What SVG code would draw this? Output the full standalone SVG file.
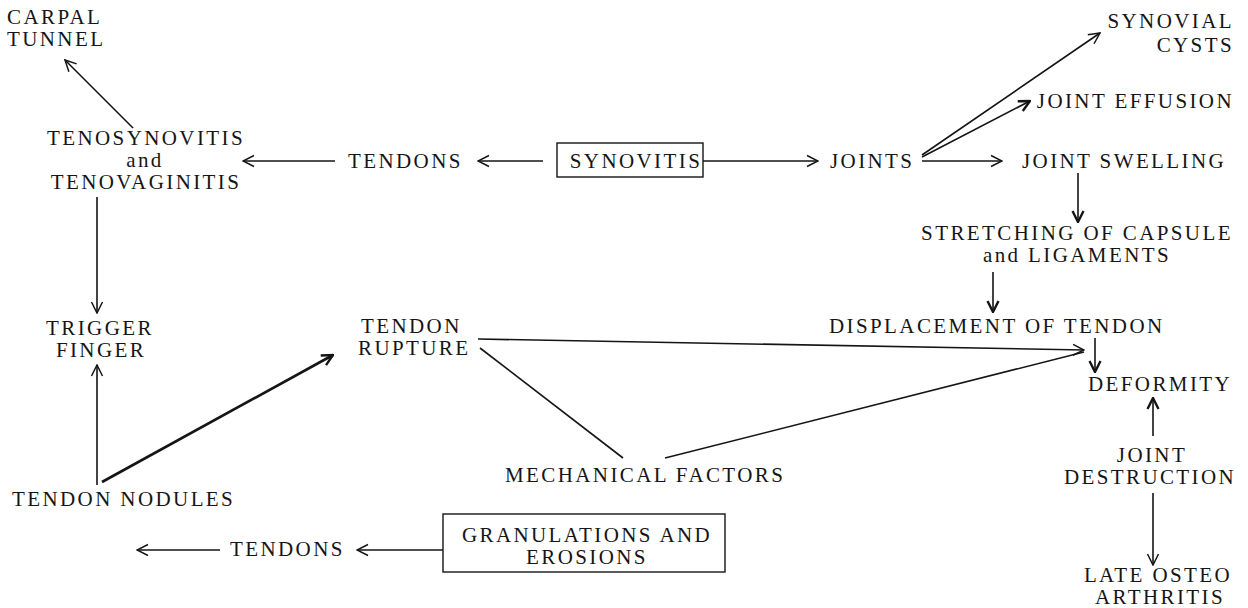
<svg xmlns="http://www.w3.org/2000/svg" width="1248" height="608" viewBox="0 0 1248 608">
<style>
text{font-family:"Liberation Serif","Times New Roman",serif;font-size:21px;fill:#151515;letter-spacing:2.4px}
.m{text-anchor:middle}
.e{text-anchor:end}
.c line{stroke:#151515;stroke-width:1.6;fill:none}
.c .b{stroke-width:2.6}
.box{fill:none;stroke:#151515;stroke-width:1.4}
</style>
<defs>
<marker id="ah" viewBox="0 0 14 14" refX="13" refY="7" markerWidth="14" markerHeight="14" markerUnits="userSpaceOnUse" orient="auto">
<path d="M2,1.5 L13,7 L2,12.5" fill="none" stroke="#151515" stroke-width="1.5"/>
</marker>
<marker id="ahb" viewBox="0 0 14 14" refX="13" refY="7" markerWidth="14" markerHeight="14" markerUnits="userSpaceOnUse" orient="auto">
<path d="M2,1.5 L13,7 L2,12.5" fill="none" stroke="#151515" stroke-width="2.4"/>
</marker>
</defs>
<rect width="1248" height="608" fill="#fff"/>

<g id="carpal"><text x="7" y="24">CARPAL</text><text x="7" y="46">TUNNEL</text></g>
<g id="teno"><text class="m" x="146" y="145">TENOSYNOVITIS</text><text class="m" x="145" y="167">and</text><text class="m" x="146" y="189">TENOVAGINITIS</text></g>
<g id="tendons1"><text x="348" y="168">TENDONS</text></g>
<g id="synovitis"><rect class="box" x="557" y="143" width="146" height="34"/><text class="m" x="636" y="168">SYNOVITIS</text></g>
<g id="joints"><text x="830" y="168">JOINTS</text></g>
<g id="cysts"><text class="e" x="1234" y="28">SYNOVIAL</text><text class="e" x="1234" y="52">CYSTS</text></g>
<g id="effusion"><text class="e" x="1234" y="108">JOINT EFFUSION</text></g>
<g id="swelling"><text x="1022" y="168">JOINT SWELLING</text></g>
<g id="stretching"><text class="m" x="1077" y="240">STRETCHING OF CAPSULE</text><text class="m" x="1077" y="262">and LIGAMENTS</text></g>
<g id="displacement"><text x="829" y="333">DISPLACEMENT OF TENDON</text></g>
<g id="deformity"><text x="1088" y="391">DEFORMITY</text></g>
<g id="destruction"><text class="m" x="1152" y="462">JOINT</text><text class="m" x="1150" y="484">DESTRUCTION</text></g>
<g id="osteo"><text class="m" x="1158" y="582">LATE OSTEO</text><text class="m" x="1160" y="604">ARTHRITIS</text></g>
<g id="trigger"><text class="m" x="100" y="335">TRIGGER</text><text class="m" x="101" y="357">FINGER</text></g>
<g id="rupture"><text x="361" y="333">TENDON</text><text x="358" y="355">RUPTURE</text></g>
<g id="mechanical"><text x="505" y="482">MECHANICAL FACTORS</text></g>
<g id="nodules"><text x="12" y="506">TENDON NODULES</text></g>
<g id="tendons2"><text x="230" y="556">TENDONS</text></g>
<g id="granulations"><rect class="box" x="443" y="514" width="282" height="58"/><text class="m" x="587" y="542">GRANULATIONS AND</text><text class="m" x="587" y="564">EROSIONS</text></g>

<g id="connectors" class="c">
<line x1="133" y1="128" x2="65" y2="60" marker-end="url(#ah)"/>
<line x1="335" y1="161" x2="243" y2="161" marker-end="url(#ah)"/>
<line x1="543" y1="161" x2="478" y2="161" marker-end="url(#ah)"/>
<line x1="703" y1="161" x2="818" y2="161" marker-end="url(#ah)"/>
<line x1="922" y1="155" x2="1100" y2="33" marker-end="url(#ah)"/>
<line x1="922" y1="157" x2="1030" y2="101" marker-end="url(#ahb)"/>
<line x1="922" y1="161" x2="1002" y2="161" marker-end="url(#ah)"/>
<line x1="1078" y1="173" x2="1078" y2="222" marker-end="url(#ahb)"/>
<line x1="993" y1="272" x2="993" y2="312" marker-end="url(#ahb)"/>
<line x1="478" y1="339" x2="1084" y2="350" marker-end="url(#ah)"/>
<line x1="665" y1="458" x2="1084" y2="352"/>
<line x1="480" y1="348" x2="623" y2="458"/>
<line x1="1095" y1="338" x2="1095" y2="372" marker-end="url(#ahb)"/>
<line x1="1153" y1="436" x2="1153" y2="398" marker-end="url(#ahb)"/>
<line x1="1153" y1="493" x2="1153" y2="565" marker-end="url(#ah)"/>
<line x1="97" y1="197" x2="97" y2="313" marker-end="url(#ah)"/>
<line x1="97" y1="485" x2="97" y2="365" marker-end="url(#ah)"/>
<line class="b" x1="102" y1="482" x2="333" y2="355" marker-end="url(#ahb)"/>
<line x1="443" y1="550" x2="357" y2="550" marker-end="url(#ah)"/>
<line x1="220" y1="550" x2="137" y2="550" marker-end="url(#ah)"/>
</g>
</svg>
